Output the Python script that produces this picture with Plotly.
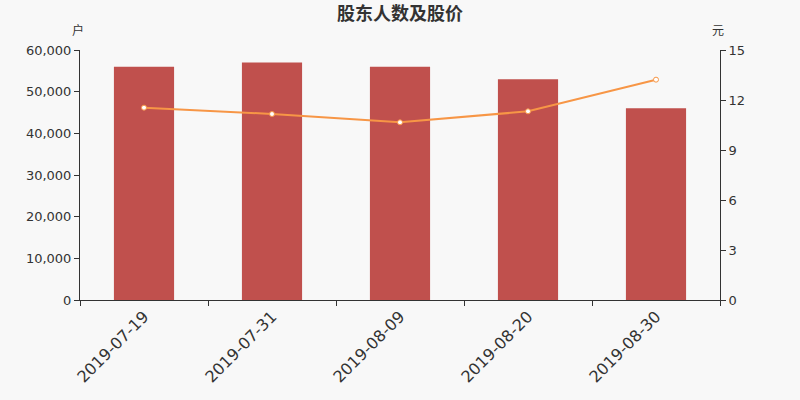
import plotly.graph_objects as go

dates = ["2019-07-19", "2019-07-31", "2019-08-09", "2019-08-20", "2019-08-30"]
holders = [56000, 57000, 56000, 53000, 46000]
price = [11.54, 11.16, 10.66, 11.32, 13.22]

fig = go.Figure()
fig.add_trace(go.Bar(x=dates, y=holders, marker=dict(color="#c0504d", line=dict(width=0)),
                     width=0.47, yaxis="y", name="股东人数"))
fig.add_trace(go.Scatter(x=dates, y=price, yaxis="y2", mode="lines+markers",
                         line=dict(color="#f79646", width=2),
                         marker=dict(size=5, color="white", line=dict(color="#f79646", width=1)),
                         name="股价"))

cjk = "Noto Sans CJK SC, sans-serif"
dv = "DejaVu Sans, sans-serif"
fig.update_layout(
    width=800, height=400,
    paper_bgcolor="#f8f8f8", plot_bgcolor="#f8f8f8",
    margin=dict(l=80, r=80, t=50, b=100),
    showlegend=False,
    font=dict(family=cjk, color="#333333", size=13),
    title=dict(text="<b>股东人数及股价</b>", x=0.5, xanchor="center", y=1 - 14 / 400,
               yanchor="middle", font=dict(size=18, color="#333333", family=cjk)),
    xaxis=dict(type="category", tickson="boundaries", ticks="outside", ticklen=5,
               tickcolor="#333333", showline=True, linecolor="#333333", linewidth=1,
               tickangle=-45, tickfont=dict(size=16, color="#333333", family=dv), showgrid=False,
               automargin=False),
    yaxis=dict(range=[0, 60000], dtick=10000, tickformat=",", ticks="outside", ticklen=5,
               tickcolor="#333333", showline=True, linecolor="#333333", showgrid=False,
               zeroline=False, tickfont=dict(size=13, family=dv), automargin=False),
    yaxis2=dict(range=[0, 15], dtick=3, overlaying="y", side="right", ticks="outside",
                ticklen=5, tickcolor="#333333", showline=True, linecolor="#333333",
                showgrid=False, zeroline=False, tickfont=dict(size=13, family=dv),
                automargin=False),
    annotations=[
        dict(text="户", xref="paper", yref="paper", x=0, y=1, xshift=-2, yshift=10,
             showarrow=False, xanchor="center", yanchor="bottom", font=dict(size=12)),
        dict(text="元", xref="paper", yref="paper", x=1, y=1, xshift=-2, yshift=10,
             showarrow=False, xanchor="center", yanchor="bottom", font=dict(size=12)),
    ],
)

fig.write_html("out.html", config={"displayModeBar": False},
               post_script="document.body.style.margin='0';document.body.style.background='#f8f8f8';")
